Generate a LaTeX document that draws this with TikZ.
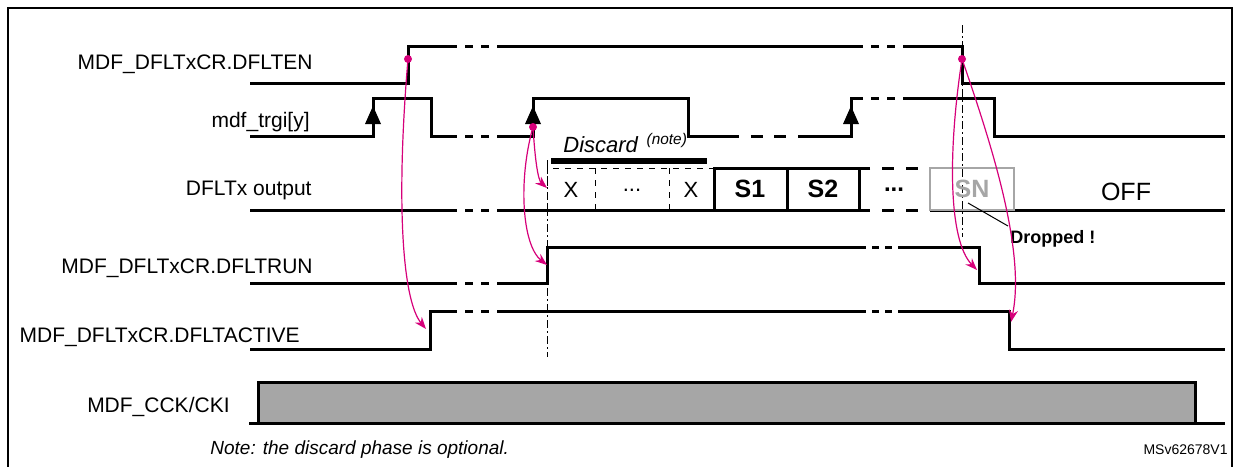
\documentclass[tikz,border=0pt]{standalone}
\usepackage{fontspec}
\setmainfont{Liberation Sans}
\usetikzlibrary{arrows.meta}
\definecolor{mag}{RGB}{214,0,122}
\definecolor{ccg}{RGB}{166,166,166}
\newcommand\brkdash[3]{%
  \pgfmathsetmacro\La{#1+(#2-#1)*0.2}\pgfmathsetmacro\Lb{#1+(#2-#1)*0.4}%
  \pgfmathsetmacro\Lc{#1+(#2-#1)*0.6}\pgfmathsetmacro\Ld{#1+(#2-#1)*0.8}%
  \draw[sig] (\La,#3)--(\Lb,#3) (\Lc,#3)--(\Ld,#3);}
\begin{document}
\begin{tikzpicture}[x=0.5pt,y=-0.5pt,
  sig/.style={line width=1.5pt},
  lab/.style={anchor=east,font=\fontsize{10.5}{12}\selectfont,inner sep=0},
  cause/.style={mag,line width=0.6pt,-{Stealth[length=6pt,width=4.5pt]}},
  dot/.style={circle,fill=mag,inner sep=0,minimum size=4pt},
  trig/.style={fill=black},
  vmark/.style={line width=0.4pt,dash pattern=on 4pt off 1.5pt on 1pt off 1.5pt}]
\useasboundingbox (0,0) rectangle (1240,466);
\clip (0,0) rectangle (1240,466);
\draw[line width=1pt] (8,8) rectangle (1232,520);
% labels
\node[lab] (l1) at (313,64) {MDF\_DFLTxCR.DFLTEN};
\node[lab] (l2) at (310,122) {mdf\_trgi[y]};
\node[lab] (l3) at (312,190) {DFLTx output};
\node[lab] (l4) at (313,268) {MDF\_DFLTxCR.DFLTRUN};
\node[lab] (l5) at (300,337) {MDF\_DFLTxCR.DFLTACTIVE};
\node[lab] (l6) at (230,407) {MDF\_CCK/CKI};
% markers
\draw[vmark] (547,160)--(547,357);
\draw[vmark] (962,25)--(962,237);
% DFLTEN
\draw[sig] (250,83)--(408,83)--(408,46)--(457,46) (497,46)--(863,46) (903,46)--(962,46)--(962,83)--(1225,83);
\brkdash{457}{497}{46}\brkdash{863}{903}{46}
% trigger
\draw[sig] (250,136)--(373,136)--(373,98)--(431,98)--(431,136)--(457,136) (497,136)--(533,136)--(533,98)--(688,98)--(688,136)--(739,136) (798,136)--(851,136)--(851,98)--(863,98) (903,98)--(994,98)--(994,136)--(1225,136);
\brkdash{457}{497}{136}\brkdash{739}{798}{136}\brkdash{863}{903}{98}
\foreach \t in {373,533,851} \fill (\t,106)--(\t+8,124)--(\t-8,124)--cycle;
% output
\draw[sig] (250,210)--(457,210) (497,210)--(870,210) (930,210)--(1225,210);
\brkdash{457}{497}{210}\brkdash{870}{930}{210}
\draw[sig] (870,168)--(859,168) (859,168)--(714,168)--(714,210) (787,168)--(787,210) (859,168)--(859,210);
\brkdash{870}{930}{168}
\draw[dashed,line width=0.5pt] (547,210)--(547,168)--(714,168) (595,168)--(595,210) (669,168)--(669,210);
\draw[line width=3pt] (551,161)--(707,161);
\node[font=\fontsize{11}{12}\selectfont\itshape,anchor=base west,inner sep=0] (disc) at (563,152) {Discard \textsuperscript{\,(note)}};
\node[font=\fontsize{11}{12}\selectfont] (x1) at (571,190) {X};
\node[font=\fontsize{11}{12}\selectfont] (x2) at (632,190) {...};
\node[font=\fontsize{11}{12}\selectfont] (x3) at (691,190) {X};
\node[font=\fontsize{12.5}{14}\selectfont\bfseries] (s1) at (750,189) {S1};
\node[font=\fontsize{12.5}{14}\selectfont\bfseries] (s2) at (823,189) {S2};
\node[font=\fontsize{12}{14}\selectfont\bfseries] (s3) at (894,190) {...};
\draw[ccg,line width=1.2pt] (930,168) rectangle (1014,210);
\node[ccg,font=\fontsize{12.5}{14}\selectfont\bfseries] (sn) at (972,189) {SN};
\node[font=\fontsize{12.5}{14}\selectfont] (off) at (1126,192) {OFF};
\node[font=\fontsize{9}{10}\selectfont\bfseries,anchor=west,inner sep=0] (drop) at (1010,239) {Dropped !};
\draw[line width=0.5pt] (968,203)--(1008,226);
% DFLTRUN
\draw[sig] (250,283)--(457,283) (497,283)--(547,283)--(547,247)--(866,247) (898,247)--(979,247)--(979,283)--(1225,283);
\brkdash{457}{497}{283}\brkdash{866}{898}{247}
% DFLTACTIVE
\draw[sig] (250,349)--(430,349)--(430,311)--(457,311) (497,311)--(866,311) (898,311)--(1009,311)--(1009,349)--(1225,349);
\brkdash{457}{497}{311}\brkdash{866}{898}{311}
% CCK
\fill[ccg] (258,382) rectangle (1195,423);
\draw[sig] (258,423)--(258,382)--(1195,382)--(1195,423);
\draw[sig] (249,423)--(1225,423);
% causality
\node[dot] (d1) at (408,59) {};
\node[dot] (d2) at (533,127) {};
\node[dot] (d3) at (962,59) {};
\coordinate (e1) at (426,329);
\coordinate (e2) at (547,188);
\coordinate (e3) at (547,265);
\coordinate (e4) at (977,270);
\coordinate (e5) at (1011,322);
\draw[cause] (d1.center) .. controls (396,200) and (402,300) .. (e1);
\draw[cause] (d2.center) .. controls (535,160) and (538,180) .. (e2);
\draw[cause] (d2.center) .. controls (518,180) and (522,245) .. (e3);
\draw[cause] (d3.center) .. controls (948,150) and (948,240) .. (e4);
\draw[cause] (d3.center) .. controls (990,140) and (1026,250) .. (e5);
% notes
\node[font=\fontsize{9.5}{11}\selectfont\itshape,anchor=west,inner sep=0] (note) at (210,450) {Note: the discard phase is optional.};
\node[font=\fontsize{7}{8}\selectfont,anchor=east,inner sep=0] (ms) at (1228,450) {MSv62678V1};
\end{tikzpicture}
\end{document}
